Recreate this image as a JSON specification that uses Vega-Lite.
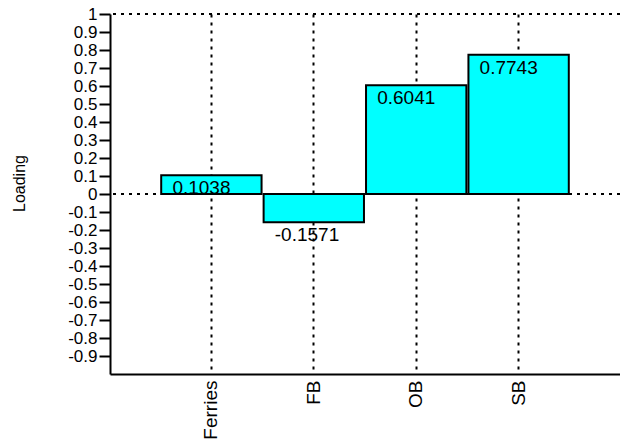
{
  "$schema": "https://vega.github.io/schema/vega-lite/v6.json",
  "autosize": "none",
  "width": 510,
  "height": 360,
  "padding": {"left": 110, "top": 14, "right": 0, "bottom": 69},
  "background": "white",
  "config": {
    "view": {"stroke": null},
    "font": "Liberation Sans"
  },
  "data": {
    "values": [
      {"var": "Ferries", "loading": 0.1038, "label": "0.1038"},
      {"var": "FB", "loading": -0.1571, "label": "-0.1571"},
      {"var": "OB", "loading": 0.6041, "label": "0.6041"},
      {"var": "SB", "loading": 0.7743, "label": "0.7743"}
    ]
  },
  "layer": [
    {
      "data": {"values": [{"y": 0}, {"y": 1}]},
      "mark": {"type": "rule", "color": "black", "strokeWidth": 2, "strokeDash": [3, 5]},
      "encoding": {
        "y": {
          "field": "y",
          "type": "quantitative",
          "scale": {"domain": [-1, 1], "nice": false, "zero": false},
          "axis": {
            "title": "Loading",
            "titleFontSize": 16,
            "titleFontWeight": "normal",
            "titleColor": "black",
            "titleAngle": 270,
            "titleX": -83,
            "titleY": 169,
            "values": [-0.9, -0.8, -0.7, -0.6, -0.5, -0.4, -0.3, -0.2, -0.1, 0, 0.1, 0.2, 0.3, 0.4, 0.5, 0.6, 0.7, 0.8, 0.9, 1],
            "labelExpr": "replace(format(datum.value, '.1~f'), '\u2212', '-')",
            "labelFontSize": 17,
            "labelColor": "black",
            "labelPadding": 2,
            "labelOverlap": false,
            "tickSize": 11,
            "tickWidth": 2,
            "tickColor": "black",
            "domainColor": "black",
            "domainWidth": 2,
            "grid": false
          }
        }
      }
    },
    {
      "mark": {"type": "bar", "fill": "#00FFFF", "stroke": "black", "strokeWidth": 2},
      "encoding": {
        "x": {
          "field": "var",
          "type": "nominal",
          "sort": null,
          "scale": {"paddingInner": 0.02, "paddingOuter": 0.5},
          "axis": {
            "title": null,
            "orient": "bottom",
            "labelAngle": -90,
            "labelFontSize": 19,
            "labelColor": "black",
            "labelPadding": 6,
            "ticks": false,
            "domainColor": "black",
            "domainWidth": 2,
            "grid": true,
            "gridColor": "black",
            "gridWidth": 2,
            "gridDash": [3, 5],
            "bandPosition": 0.5
          }
        },
        "y": {
          "field": "loading",
          "type": "quantitative",
          "scale": {"domain": [-1, 1], "nice": false, "zero": false},
          "axis": {
            "title": "Loading",
            "titleFontSize": 16,
            "titleFontWeight": "normal",
            "titleColor": "black",
            "titleAngle": 270,
            "titleX": -83,
            "titleY": 169,
            "values": [-0.9, -0.8, -0.7, -0.6, -0.5, -0.4, -0.3, -0.2, -0.1, 0, 0.1, 0.2, 0.3, 0.4, 0.5, 0.6, 0.7, 0.8, 0.9, 1],
            "labelExpr": "replace(format(datum.value, '.1~f'), '\u2212', '-')",
            "labelFontSize": 17,
            "labelColor": "black",
            "labelPadding": 2,
            "labelOverlap": false,
            "tickSize": 11,
            "tickWidth": 2,
            "tickColor": "black",
            "domainColor": "black",
            "domainWidth": 2,
            "grid": false
          }
        }
      }
    },
    {
      "mark": {"type": "text", "align": "left", "baseline": "top", "dx": -39, "dy": 4, "fontSize": 19, "color": "black"},
      "encoding": {
        "x": {
          "field": "var",
          "type": "nominal",
          "sort": null,
          "axis": {
            "title": null,
            "orient": "bottom",
            "labelAngle": -90,
            "labelFontSize": 19,
            "labelColor": "black",
            "labelPadding": 6,
            "ticks": false,
            "domainColor": "black",
            "domainWidth": 2,
            "grid": true,
            "gridColor": "black",
            "gridWidth": 2,
            "gridDash": [3, 5],
            "bandPosition": 0.5
          }
        },
        "y": {
          "field": "loading",
          "type": "quantitative",
          "axis": {
            "title": "Loading",
            "titleFontSize": 16,
            "titleFontWeight": "normal",
            "titleColor": "black",
            "titleAngle": 270,
            "titleX": -83,
            "titleY": 169,
            "values": [-0.9, -0.8, -0.7, -0.6, -0.5, -0.4, -0.3, -0.2, -0.1, 0, 0.1, 0.2, 0.3, 0.4, 0.5, 0.6, 0.7, 0.8, 0.9, 1],
            "labelExpr": "replace(format(datum.value, '.1~f'), '\u2212', '-')",
            "labelFontSize": 17,
            "labelColor": "black",
            "labelPadding": 2,
            "labelOverlap": false,
            "tickSize": 11,
            "tickWidth": 2,
            "tickColor": "black",
            "domainColor": "black",
            "domainWidth": 2,
            "grid": false
          }
        },
        "text": {"field": "label"}
      }
    }
  ]
}
